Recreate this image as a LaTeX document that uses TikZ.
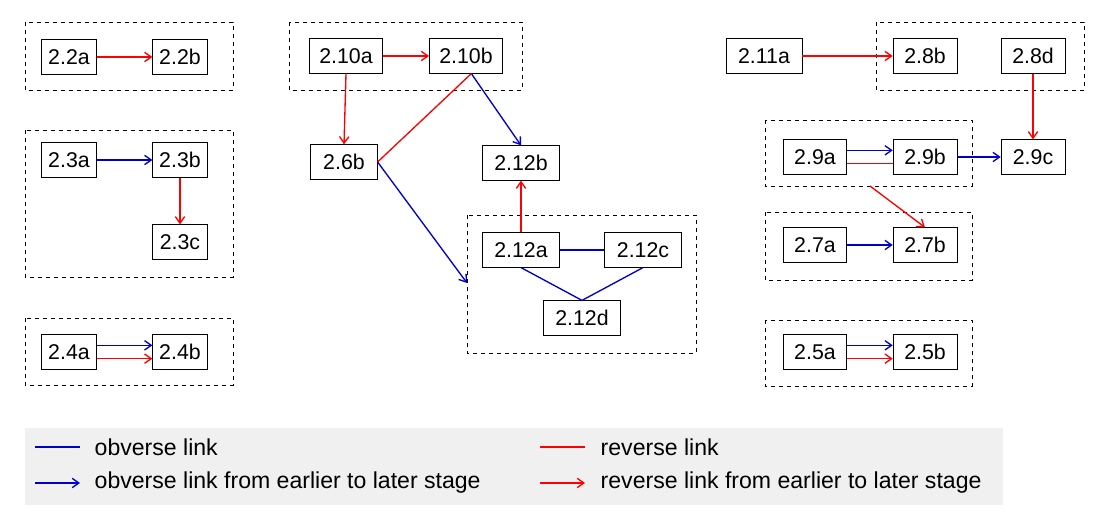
\documentclass[tikz,border=0pt]{standalone}
\usepackage{fontspec}
\setmainfont{Liberation Sans}
\usetikzlibrary{arrows.meta}
\begin{document}
\begin{tikzpicture}[x=0.75pt,y=-0.75pt,
  bx/.style={draw,fill=white,font=\fontsize{16}{18}\selectfont,minimum height=26pt,inner xsep=3pt,minimum width=41pt},
  grp/.style={draw,dashed,line width=0.5pt},
  ob/.style={draw=blue!80!black,line width=1pt},
  rv/.style={draw=red,line width=1pt},
  arr/.style={-{Straight Barb[length=5pt,width=7pt]}},
  lg/.style={font=\fontsize{17.3}{19}\selectfont,anchor=west}]
\useasboundingbox (0,0) rectangle (1110,530);
% groups
\draw[grp] (25,22) rectangle (233,90);
\draw[grp] (25,130) rectangle (233,277);
\draw[grp] (25,318) rectangle (233,385);
\draw[grp] (289,22) rectangle (522,90);
\draw[grp] (467,215) rectangle (696,353);
\coordinate (g12) at (467,283);
\draw[grp] (876,22) rectangle (1084,90);
\draw[grp] (765,120) rectangle (972,186);
\coordinate (g9) at (870,186);
\draw[grp] (765,212) rectangle (972,280);
\draw[grp] (765,320) rectangle (972,386);
% nodes
\node[bx] (a22a) at (69,57) {2.2a};
\node[bx] (a22b) at (180,57) {2.2b};
\node[bx] (a23a) at (69,160) {2.3a};
\node[bx] (a23b) at (180,160) {2.3b};
\node[bx] (a23c) at (180,242) {2.3c};
\node[bx] (a24a) at (69,352) {2.4a};
\node[bx] (a24b) at (180,352) {2.4b};
\node[bx,minimum width=55pt] (a210a) at (346,56) {2.10a};
\node[bx,minimum width=55pt] (a210b) at (466,56) {2.10b};
\node[bx,minimum width=50pt] (a26b) at (344,162) {2.6b};
\node[bx,minimum width=58pt] (a212b) at (521,163) {2.12b};
\node[bx,minimum width=58pt] (a212a) at (521,250) {2.12a};
\node[bx,minimum width=58pt] (a212c) at (643,250) {2.12c};
\node[bx,minimum width=58pt] (a212d) at (582,318) {2.12d};
\node[bx,minimum width=57pt] (a211a) at (764,56) {2.11a};
\node[bx,minimum width=48pt] (a28b) at (925,56) {2.8b};
\node[bx,minimum width=48pt] (a28d) at (1033,56) {2.8d};
\node[bx,minimum width=47pt] (a29a) at (815,157) {2.9a};
\node[bx,minimum width=48pt] (a29b) at (925,157) {2.9b};
\node[bx,minimum width=48pt] (a29c) at (1033,157) {2.9c};
\node[bx,minimum width=47pt] (a27a) at (815,245) {2.7a};
\node[bx,minimum width=48pt] (a27b) at (925,245) {2.7b};
\node[bx,minimum width=47pt] (a25a) at (815,352) {2.5a};
\node[bx,minimum width=48pt] (a25b) at (925,352) {2.5b};
% edges
\draw[rv,arr] (a22a) -- (a22b);
\draw[ob,arr] (a23a) -- (a23b);
\draw[rv,arr] (a23b) -- (a23c);
\draw[ob,arr] ([yshift=5pt]a24a.east) -- ([yshift=5pt]a24b.west);
\draw[rv,arr] ([yshift=-5pt]a24a.east) -- ([yshift=-5pt]a24b.west);
\draw[rv,arr] (a210a) -- (a210b);
\draw[rv,arr] (a210a.south) -- (a26b.north);
\draw[ob,arr] ([xshift=4]a210b.south) -- (a212b.north);
\draw[rv] (a26b.east) -- ([xshift=4]a210b.south);
\draw[ob,arr] (a26b.east) -- (g12);
\draw[rv,arr] (a212a) -- (a212b);
\draw[ob] (a212a) -- (a212c);
\draw[ob] (a212a.south) -- (a212d.north) -- (a212c.south);
\draw[rv,arr] (a211a) -- (a28b);
\draw[rv,arr] (a28d) -- (a29c);
\draw[ob,arr] ([yshift=5pt]a29a.east) -- ([yshift=5pt]a29b.west);
\draw[rv] ([yshift=-5pt]a29a.east) -- ([yshift=-5pt]a29b.west);
\draw[ob,arr] (a29b) -- (a29c);
\draw[rv,arr] (g9) -- (a27b.north);
\draw[ob,arr] (a27a) -- (a27b);
\draw[ob,arr] ([yshift=5pt]a25a.east) -- ([yshift=5pt]a25b.west);
\draw[rv,arr] ([yshift=-5pt]a25a.east) -- ([yshift=-5pt]a25b.west);
% legend
\fill[black!6] (25,428) rectangle (1003,505);
\coordinate (l1a) at (35,447); \coordinate (l1b) at (80,447);
\coordinate (l2a) at (35,483); \coordinate (l2b) at (80,483);
\coordinate (l3a) at (540,447); \coordinate (l3b) at (585,447);
\coordinate (l4a) at (540,483); \coordinate (l4b) at (585,483);
\draw[ob] (l1a) -- (l1b);
\draw[ob,arr] (l2a) -- (l2b);
\draw[rv] (l3a) -- (l3b);
\draw[rv,arr] (l4a) -- (l4b);
\node[lg] (t1) at (90,447) {obverse link};
\node[lg] (t2) at (90,483) {obverse link from earlier to later stage};
\node[lg] (t3) at (596,447) {reverse link};
\node[lg] (t4) at (596,483) {reverse link from earlier to later stage};
\end{tikzpicture}
\end{document}
